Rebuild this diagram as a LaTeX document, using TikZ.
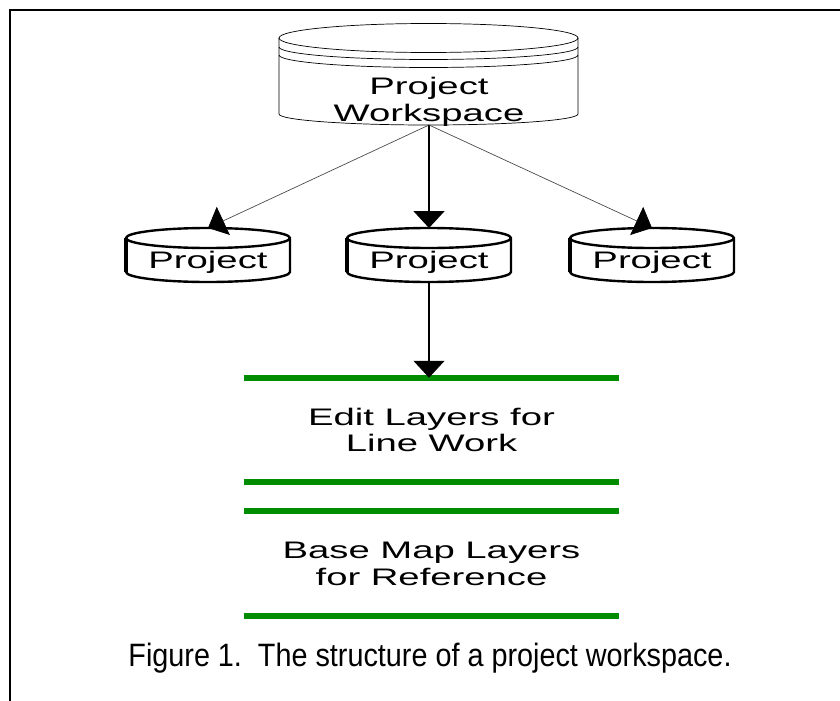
\documentclass[tikz,border=0pt]{standalone}
\usepackage{fontspec}
\usetikzlibrary{arrows.meta}
\newfontfamily\diagfont[FakeStretch=1.6]{Liberation Sans}
\newfontfamily\capfont[FakeStretch=0.89]{Liberation Sans}
\definecolor{layergreen}{RGB}{0,140,0}
% small project disk: #1 name, #2 x of the centre
\newcommand{\projDisk}[2]{%
    \filldraw[diskedge, fill=white] (#2-82,462) -- (#2-82,428)
        arc[start angle=180, end angle=360, x radius=82, y radius=10]
        -- (#2+82,462)
        arc[start angle=0, end angle=180, x radius=82, y radius=10] -- cycle;
    \draw[diskedge] (#2-82,462) arc[start angle=180, end angle=360, x radius=82, y radius=10];
    \draw[line width=2.6pt] (#2-82,462) -- (#2-82,428);
    \node[disktext] (#1) at (#2,432) {Project};
    \coordinate (#1-top) at (#2,472);
    \coordinate (#1-bot) at (#2,418);
}

\begin{document}
\begin{tikzpicture}[x=0.025cm, y=0.025cm,
    diskedge/.style={line width=1.7pt},
    thindisk/.style={line width=0.5pt},
    disktext/.style={font=\diagfont\fontsize{17}{19.1}\selectfont, anchor=base, inner sep=0pt, align=center},
    layerbox/.style={font=\diagfont\fontsize{17}{19.1}\selectfont, align=center, inner sep=0pt,
        minimum width=9.375cm, minimum height=2.6cm},
    layerline/.style={layergreen, line width=4.3pt},
    link/.style={-{Triangle[length=12pt, width=22pt, color=black]}, line width=0.9pt},
    thinlink/.style={link, line width=0.5pt, black!70},
    captext/.style={font=\capfont\fontsize{23}{27}\selectfont, anchor=base, inner sep=0pt}]
    \useasboundingbox (0,0) rectangle (840,700);
    \draw[line width=1.4pt] (840,690) -- (10,690) -- (10,-5);

    % workspace disk pack
    \filldraw[thindisk, fill=white] (279,662) -- (279,586)
        arc[start angle=180, end angle=360, x radius=149.5, y radius=11]
        -- (578,662)
        arc[start angle=0, end angle=180, x radius=149.5, y radius=14.5] -- cycle;
    \draw[thindisk] (279,662) arc[start angle=180, end angle=360, x radius=149.5, y radius=14.5];
    \draw[thindisk] (279,653) arc[start angle=180, end angle=360, x radius=149.5, y radius=12.5];
    \draw[thindisk] (279,645) arc[start angle=180, end angle=360, x radius=149.5, y radius=12.5];
    \node[disktext] (ws) at (429,579) {Project\\Workspace};
    \coordinate (ws-bot) at (429,575);

    \projDisk{p1}{208}
    \projDisk{p2}{429}
    \projDisk{p3}{652}

    \draw[thinlink] (ws-bot) -- (p1-top);
    \draw[link] (ws-bot) -- (p2-top);
    \draw[thinlink] (ws-bot) -- (p3-top);

    % layers
    \node[layerbox] (edit) at (431.5,270) {Edit Layers for\\Line Work};
    \node[layerbox] (base) at (431.5,136.5) {Base Map Layers\\for Reference};
    \foreach \n in {edit, base} {
        \draw[layerline] (\n.north west) -- (\n.north east);
        \draw[layerline] (\n.south west) -- (\n.south east);
    }
    \draw[link] (p2-bot) -- (p2-bot |- edit.north);

    \node[captext] (caption) at (430,34) {Figure 1.\ \ The structure of a project workspace.};
\end{tikzpicture}
\end{document}
